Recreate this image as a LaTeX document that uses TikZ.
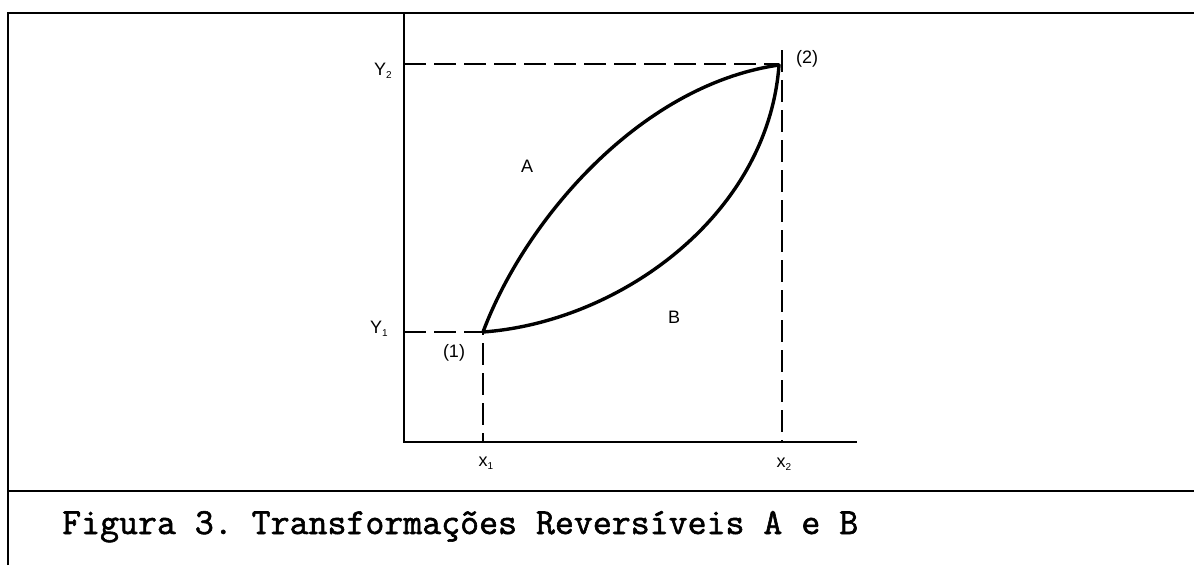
\documentclass[tikz,border=0pt]{standalone}
\usepackage{fontspec}
\setmainfont{Liberation Sans}
\newfontfamily\capfont[FakeBold=1.6]{Latin Modern Mono}
\newcommand\lowsub[1]{\raisebox{-3.5pt}{\fontsize{10}{10}\selectfont #1}}
\frenchspacing
\begin{document}
\begin{tikzpicture}[x=1pt,y=-1pt,
  frame/.style={line width=2.2pt},
  axis/.style={line width=2.4pt},
  guide/.style={line width=1.8pt, dash pattern=on 22pt off 8pt},
  proc/.style={line width=3.4pt, line cap=round},
  lbl/.style={font=\fontsize{18}{18}\selectfont, inner sep=0pt},
  ]
\useasboundingbox (0,0) rectangle (1194,565);
% frame
\coordinate (fTL) at (8,13);
\coordinate (fBL) at (8,565);
\coordinate (fTR) at (1194,13);
\coordinate (sL) at (8,491);
\coordinate (sR) at (1194,491);
\draw[frame] (fBL) -- (fTL) -- (fTR);
\draw[frame] (sL) -- (sR);
% axes
\coordinate (O) at (404,442);
\coordinate (Ytop) at (404,13);
\coordinate (Xend) at (857,442);
\draw[axis] (Ytop) -- (O) -- (Xend);
% states
\coordinate (p1) at (483,332);
\coordinate (p2) at (779,65);
\coordinate (ay1) at (404,332);
\coordinate (ay2) at (404,64);
\coordinate (cy2) at (779,64);
\coordinate (ax1) at (483,442);
\coordinate (ax2) at (782,442);
\coordinate (tx2) at (782,50);
\draw[guide] (ay1) -- (p1) -- (ax1);
\draw[guide] (ay2) -- (cy2);
\draw[guide] (tx2) -- (ax2);
% processes
\draw[proc] (p1) .. controls (525,220) and (640,85) .. (p2);
\draw[proc] (p1) .. controls (620,322) and (768,215) .. (p2);
% labels
\node[lbl] (ly2) at (383,71) {Y\lowsub{2}};
\node[lbl] (ly1) at (379,329) {Y\lowsub{1}};
\node[lbl] (lx1) at (486,463) {x\lowsub{1}};
\node[lbl] (lx2) at (784,464) {x\lowsub{2}};
\node[lbl] (l1) at (454,353) {(1)};
\node[lbl] (l2) at (807,59) {(2)};
\node[lbl] (lA) at (527,166) {A};
\node[lbl] (lB) at (674,317) {B};
\node[anchor=base west, inner sep=0pt, font=\capfont\fontsize{36.8}{36.8}\selectfont] (cap) at (62,534) {Figura 3. Transformações Reversíveis A e B};
\end{tikzpicture}
\end{document}
